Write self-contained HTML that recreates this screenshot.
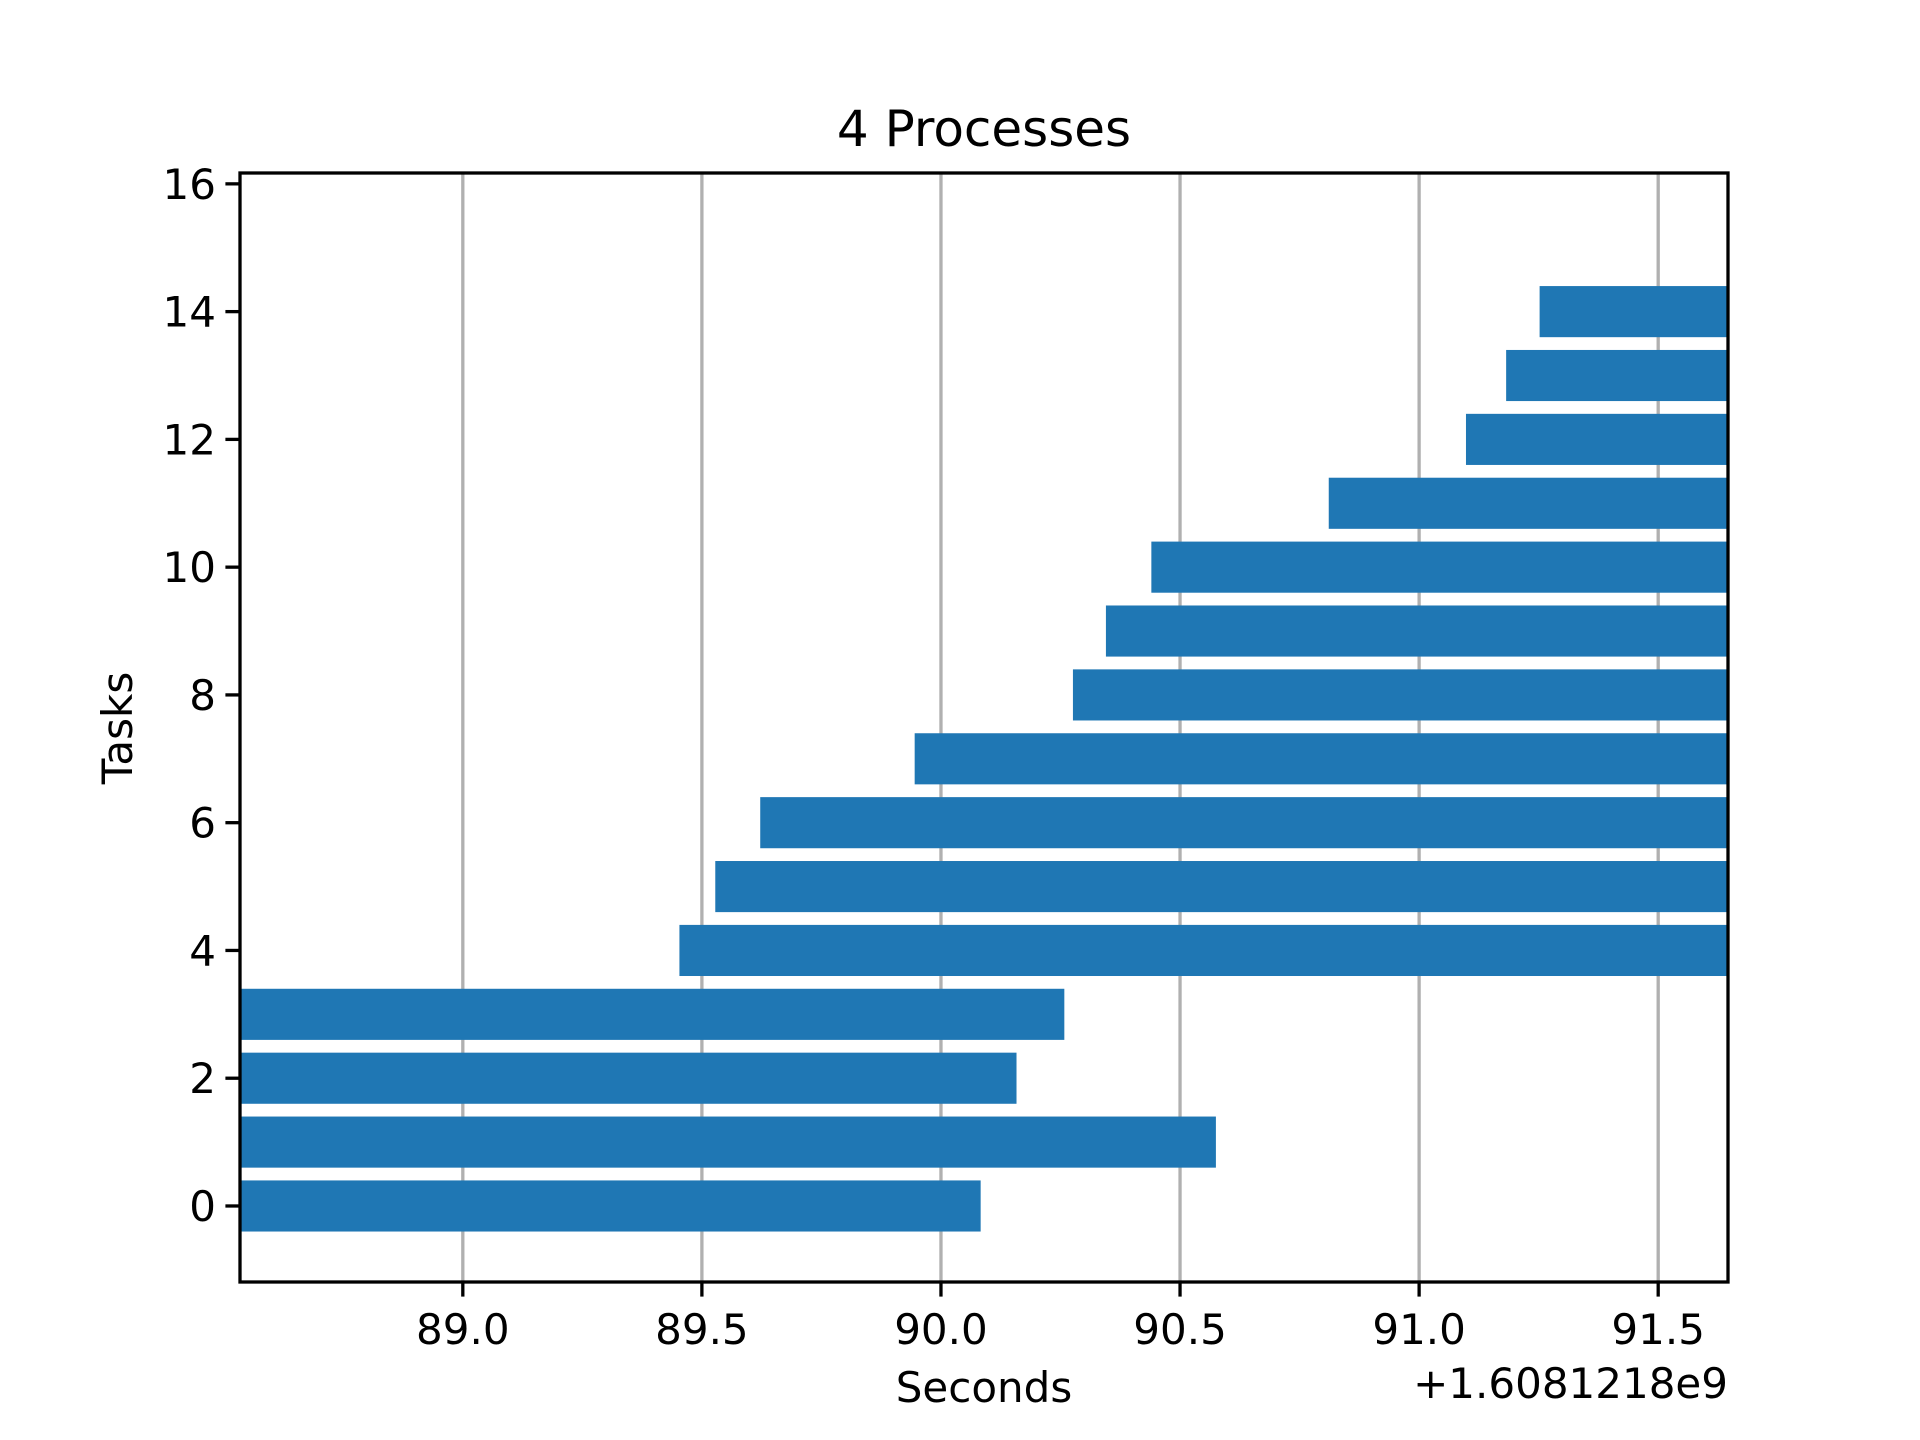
<!DOCTYPE html>
<html><head><meta charset="utf-8"><style>
html,body{margin:0;padding:0;background:#fff}
svg{display:block}
text{font-family:"DejaVu Sans","Liberation Sans",sans-serif;fill:#000}
</style></head><body>
<svg id="chart" width="1920" height="1440" viewBox="0 0 1920 1440" xmlns="http://www.w3.org/2000/svg">
<rect width="1920" height="1440" fill="#fff"/>
<defs><clipPath id="clip"><rect x="240" y="173" width="1488" height="1109"/></clipPath></defs>
<g id="grid"></g>
<g id="bars" clip-path="url(#clip)"></g>
<rect x="240" y="173" width="1488" height="1109" fill="none" stroke="#000" stroke-width="3.3"/>
<g id="ticks"></g>
<text x="984" y="146" font-size="50" text-anchor="middle">4 Processes</text>
<text x="0" y="0" font-size="42" text-anchor="middle" transform="translate(132,728) rotate(-90)">Tasks</text>
<text x="984" y="1402" font-size="42" text-anchor="middle">Seconds</text>
<text x="1728" y="1398" font-size="42" text-anchor="end">+1.6081218e9</text>
</svg>
<script>
const tasks=[0,1,2,3,4,5,6,7,8,9,10,11,12,13,14];
const starts=[88.4,88.4,88.4,88.4,89.453,89.528,89.622,89.945,90.276,90.345,90.440,90.811,91.098,91.182,91.252];
const ends=[90.083,90.575,90.158,90.258,91.8,91.8,91.8,91.8,91.8,91.8,91.8,91.8,91.8,91.8,91.8];
const xTicks=[89.0,89.5,90.0,90.5,91.0,91.5];
const xTickLabels=["89.0","89.5","90.0","90.5","91.0","91.5"];
const yTicks=[0,2,4,6,8,10,12,14,16];

const X0=240,X1=1728,Y0=1282,Y1=173;
const xmin=88.534,xmax=91.646,ymin=-1.19,ymax=16.17;
const xs=v=>X0+(v-xmin)/(xmax-xmin)*(X1-X0);
const ys=v=>Y0-(v-ymin)/(ymax-ymin)*(Y0-Y1);
const NS="http://www.w3.org/2000/svg";
const mk=(t,a,p)=>{const e=document.createElementNS(NS,t);for(const k in a)e.setAttribute(k,a[k]);p.appendChild(e);return e;};
const grid=document.getElementById('grid'),bars=document.getElementById('bars'),ticks=document.getElementById('ticks');
xTicks.forEach((v,i)=>{
  const x=xs(v);
  const g=mk('line',{x1:x,x2:x,y1:Y1,y2:Y0,stroke:'#b0b0b0','stroke-width':3.3},grid);
  
  
  const t=mk('line',{x1:x,x2:x,y1:Y0,y2:Y0+14.6,stroke:'#000','stroke-width':3.3},ticks);
  
  
  const l=mk('text',{x:x,y:Y0+62,'font-size':42,'text-anchor':'middle'},ticks);
  l.textContent=xTickLabels[i];
  
  
});
yTicks.forEach(v=>{
  const y=ys(v);
  const t=mk('line',{x1:X0-14.6,x2:X0,y1:y,y2:y,stroke:'#000','stroke-width':3.3},ticks);
  
  
  const l=mk('text',{x:X0-24,y:y+15,'font-size':42,'text-anchor':'end'},ticks);
  l.textContent=String(v);
  
  
});
tasks.forEach((k,i)=>{
  const yt=ys(k+0.4),yb=ys(k-0.4);
  const r=mk('rect',{x:xs(starts[i]),y:yt,width:xs(ends[i])-xs(starts[i]),height:yb-yt,fill:'#1f77b4'},bars);
  
  
});
</script>
</body></html>
